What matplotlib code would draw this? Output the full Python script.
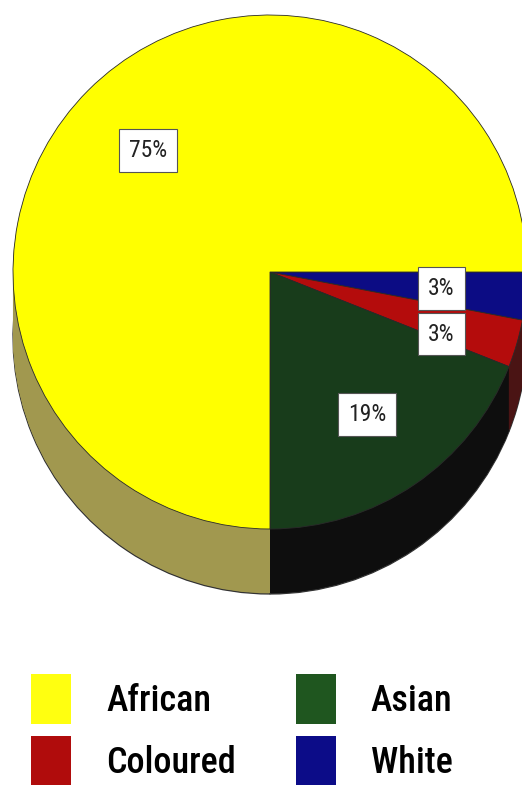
import matplotlib
matplotlib.use("Agg")
import matplotlib.pyplot as plt
from matplotlib.patches import Patch
from matplotlib import font_manager

# ---- data ----
categories = ["White", "Coloured", "Asian", "African"]
values = [3, 3, 19, 75]
top_colors = ["#0c0c84", "#b40c0c", "#183c1b", "#ffff00"]
side_colors = ["#0a0a30", "#4a1414", "#0e0e0e", "#a1984f"]
legend_order = ["African", "Coloured", "Asian", "White"]
legend_colors = {"African": "#ffff10", "Coloured": "#b00c0c", "Asian": "#1f561f", "White": "#0c0c88"}

# look for a condensed / narrow sans font
cands = []
for f in font_manager.fontManager.ttflist:
    nm = f.name
    st = str(f.stretch)
    if ("Narrow" in nm or "Condensed" in nm or st in ("condensed", "semi-condensed", "extra-condensed")) \
            and f.style == "normal" and "Mono" not in nm and "Serif" not in nm:
        cands.append((nm, st))
narrow = None
stretch = "normal"
for pref in ["Liberation Sans Narrow", "Arial Narrow", "Roboto Condensed", "Open Sans Condensed",
             "Noto Sans Condensed", "DejaVu Sans"]:
    for nm, st in cands:
        if nm == pref:
            narrow, stretch = nm, st
            break
    if narrow:
        break
if narrow is None and cands:
    narrow, stretch = cands[0]
if narrow is None:
    narrow = "Liberation Sans"
    leg_size, lab_size = 22.5, 14
else:
    leg_size, lab_size = 26, 17

W, H = 522, 785
fig = plt.figure(figsize=(W / 100, H / 100), dpi=100)
ax = fig.add_axes([0, 0, 1, 1])

cx, cy, R = 270, H - 272, 257
depth = 65

# side (extrusion) drawn as stacked pies
for off in range(depth, 0, -1):
    lw = 0.9 if off == depth else 0
    ax.pie(values, colors=side_colors, startangle=0, counterclock=False,
           center=(cx, cy - off), radius=R, frame=False,
           wedgeprops=dict(linewidth=lw, edgecolor="#333333"))

wedges, texts, autotexts = ax.pie(
    values, colors=top_colors, startangle=0, counterclock=False,
    center=(cx, cy), radius=R, frame=False,
    autopct=lambda p: f"{p:.0f}%", pctdistance=0.67,
    wedgeprops=dict(linewidth=0.6, edgecolor="#2a2a2a"),
    textprops=dict(fontsize=lab_size, family=[narrow, "DejaVu Sans"],
                   fontstretch=stretch, color="#222222"))

for t in autotexts:
    t.set_bbox(dict(boxstyle="square,pad=0.42", fc="white", ec="#555555", lw=0.8))
x, y = autotexts[1].get_position()
autotexts[1].set_position((x + 6, y - 14))

ax.set_xlim(0, W)
ax.set_ylim(0, H)
ax.set_aspect("equal")
ax.axis("off")

fs_px = leg_size * 100 / 72
hh = (50 / fs_px - 0.245) / 0.65
handles = [Patch(facecolor=legend_colors[c], edgecolor="none") for c in legend_order]
fig.legend(handles, legend_order, loc="upper left",
           bbox_to_anchor=(31 / W, 1 - 674 / H), ncol=2, frameon=False,
           prop=dict(family=[narrow, "DejaVu Sans"], size=leg_size, stretch=stretch, weight="medium"),
           handlelength=40 / fs_px, handleheight=hh, handletextpad=35 / fs_px,
           columnspacing=60 / fs_px, labelspacing=12 / fs_px, borderpad=0, borderaxespad=0)

fig.savefig("out.png", dpi=100)
